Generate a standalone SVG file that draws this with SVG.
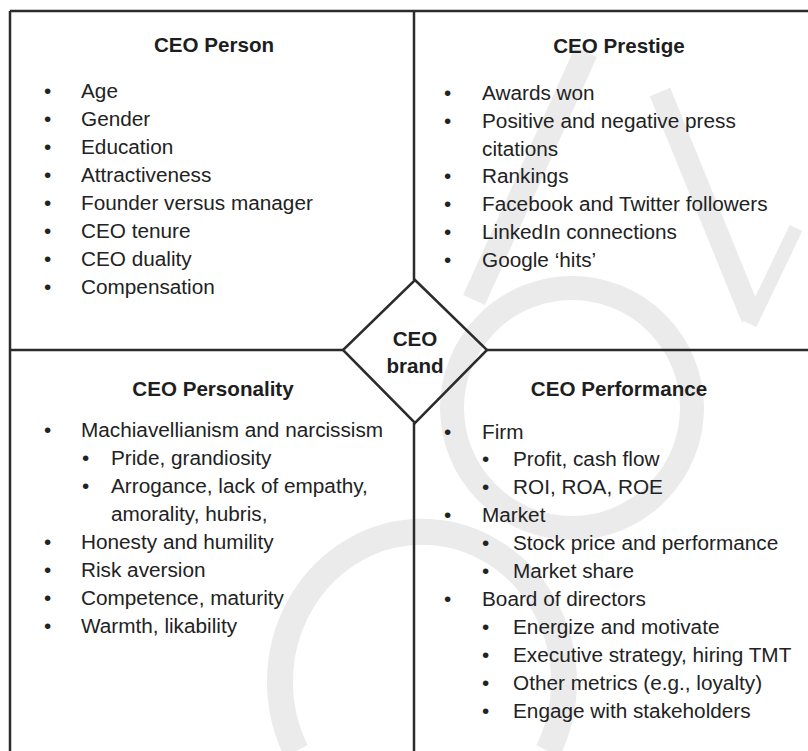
<svg xmlns="http://www.w3.org/2000/svg" width="808" height="751" viewBox="0 0 808 751">
  <style>
    text { font-family: "Liberation Sans", Arial, Helvetica, sans-serif; fill: #222; }
    .t { font-size: 20.6px; font-weight: bold; text-anchor: middle; fill: #1e1e1e; }
    .i { font-size: 20.75px; }
    .b { font-size: 20.75px; }
    .line { stroke: #2b2b2b; stroke-width: 2.5; fill: none; }
    .wm { stroke: #ebebeb; fill: none; stroke-linecap: butt; }
  </style>

  <rect x="0" y="0" width="808" height="751" fill="#ffffff"/>

  <!-- faint background mark -->
  <g id="watermark" class="wm">
    <path d="M586 52 L474 300" stroke-width="24"/>
    <path d="M660 92 L752 318" stroke-width="22"/>
    <path d="M796 228 L750 324" stroke-width="14"/>
    <circle cx="572" cy="408" r="120" stroke-width="24"/>
    <path d="M296 751 A142 150 0 1 1 548 751" stroke-width="26"/>
  </g>

  <!-- grid and connectors -->
  <g id="connectors" class="line">
    <path d="M10 11 H808"/>
    <path d="M10 11 V751"/>
    <path d="M414 11 V280"/>
    <path d="M414 423 V751"/>
    <path d="M10 350 H343"/>
    <path d="M487 350 H808"/>
  </g>

  <g id="ceo-brand">
    <polygon class="line" points="415,280 487,350 415,423 343,350" fill="#ffffff"/>
    <text class="t" x="415" y="346">CEO</text>
    <text class="t" x="415" y="372.5">brand</text>
  </g>

  <g id="ceo-person">
    <text class="t" x="214" y="52">CEO Person</text>
    <g class="b">
      <text x="44" y="97.5">•</text><text class="i" x="81" y="97.5">Age</text>
      <text x="44" y="125.6">•</text><text class="i" x="81" y="125.6">Gender</text>
      <text x="44" y="153.7">•</text><text class="i" x="81" y="153.7">Education</text>
      <text x="44" y="181.8">•</text><text class="i" x="81" y="181.8">Attractiveness</text>
      <text x="44" y="209.9">•</text><text class="i" x="81" y="209.9">Founder versus manager</text>
      <text x="44" y="238">•</text><text class="i" x="81" y="238">CEO tenure</text>
      <text x="44" y="266.1">•</text><text class="i" x="81" y="266.1">CEO duality</text>
      <text x="44" y="294.2">•</text><text class="i" x="81" y="294.2">Compensation</text>
    </g>
  </g>

  <g id="ceo-prestige">
    <text class="t" x="619" y="53">CEO Prestige</text>
    <g class="b">
      <text x="444" y="100">•</text><text class="i" x="482" y="100">Awards won</text>
      <text x="444" y="127.8">•</text><text class="i" x="482" y="127.8">Positive and negative press</text>
      <text class="i" x="482" y="155.6">citations</text>
      <text x="444" y="183.4">•</text><text class="i" x="482" y="183.4">Rankings</text>
      <text x="444" y="211.2">•</text><text class="i" x="482" y="211.2">Facebook and Twitter followers</text>
      <text x="444" y="239">•</text><text class="i" x="482" y="239">LinkedIn connections</text>
      <text x="444" y="266.8">•</text><text class="i" x="482" y="266.8">Google ‘hits’</text>
    </g>
  </g>

  <g id="ceo-personality">
    <text class="t" x="213" y="396">CEO Personality</text>
    <g class="b">
      <text x="44" y="437">•</text><text class="i" x="81" y="437">Machiavellianism and narcissism</text>
      <text x="82" y="465">•</text><text class="i" x="111" y="465">Pride, grandiosity</text>
      <text x="82" y="493">•</text><text class="i" x="111" y="493">Arrogance, lack of empathy,</text>
      <text class="i" x="111" y="521">amorality, hubris,</text>
      <text x="44" y="549">•</text><text class="i" x="81" y="549">Honesty and humility</text>
      <text x="44" y="577">•</text><text class="i" x="81" y="577">Risk aversion</text>
      <text x="44" y="604.5">•</text><text class="i" x="81" y="604.5">Competence, maturity</text>
      <text x="44" y="632.5">•</text><text class="i" x="81" y="632.5">Warmth, likability</text>
    </g>
  </g>

  <g id="ceo-performance">
    <text class="t" x="619" y="396">CEO Performance</text>
    <g class="b">
      <text x="444" y="438.5">•</text><text class="i" x="482" y="438.5">Firm</text>
      <text x="482" y="466.4">•</text><text class="i" x="513" y="466.4">Profit, cash flow</text>
      <text x="482" y="494.3">•</text><text class="i" x="513" y="494.3">ROI, ROA, ROE</text>
      <text x="444" y="522.2">•</text><text class="i" x="482" y="522.2">Market</text>
      <text x="482" y="550.1">•</text><text class="i" x="513" y="550.1">Stock price and performance</text>
      <text x="482" y="578">•</text><text class="i" x="513" y="578">Market share</text>
      <text x="444" y="605.9">•</text><text class="i" x="482" y="605.9">Board of directors</text>
      <text x="482" y="633.8">•</text><text class="i" x="513" y="633.8">Energize and motivate</text>
      <text x="482" y="661.7">•</text><text class="i" x="513" y="661.7">Executive strategy, hiring TMT</text>
      <text x="482" y="689.6">•</text><text class="i" x="513" y="689.6">Other metrics (e.g., loyalty)</text>
      <text x="482" y="717.5">•</text><text class="i" x="513" y="717.5">Engage with stakeholders</text>
    </g>
  </g>
</svg>
